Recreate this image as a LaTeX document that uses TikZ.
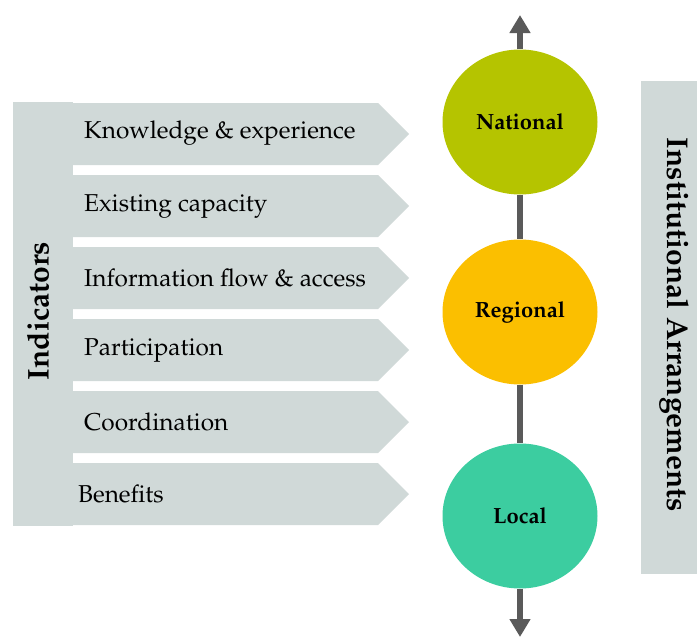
\documentclass[tikz,border=0pt]{standalone}
\usepackage[T1]{fontenc}
\usepackage{mathpazo}
\usepackage{tikz}
\usetikzlibrary{
arrows.meta,%
shapes.geometric,%
positioning
}
\definecolor{panelgray}{RGB}{208,217,216}
\definecolor{natgreen}{RGB}{181,196,0}
\definecolor{regamber}{RGB}{251,191,0}
\definecolor{loccol}{RGB}{60,205,160}
\definecolor{axisgray}{RGB}{90,90,90}
\tikzset{
    panel/.style={fill=panelgray, draw=none},
    itemtext/.style={anchor=west, inner sep=0pt, font=\fontsize{24.4}{29}\selectfont},
    sidetext/.style={inner sep=0pt, font=\bfseries\fontsize{30}{36}\selectfont},
    level/.style={ellipse, inner sep=0pt, minimum width=155pt, minimum height=145pt, font=\bfseries\fontsize{22}{26}\selectfont},
    axisline/.style={draw=axisgray, line width=6pt},
    axistip/.style={-{Triangle[width=20pt, length=18pt]}}
}

\begin{document}
\begin{tikzpicture}[x=1pt, y=-1pt]
            \useasboundingbox (0,0) rectangle (697,637);
            % left panel with the indicator arrows
            \fill[panel] (13,102) rectangle (73,526);
            \foreach \i in {0,...,5} {
                \fill[panel] (73,103+72*\i) -- (378,103+72*\i) -- (409,134+72*\i)
                    -- (378,165+72*\i) -- (73,165+72*\i) -- cycle;
            }
            \node[sidetext, rotate=90] (ind) at (38,311) {Indicators};
            \node[itemtext] (t1) at (84,133) {Knowledge \& experience};
            \node[itemtext] (t2) at (84,206) {Existing capacity};
            \node[itemtext] (t3) at (84,278) {Information flow \& access};
            \node[itemtext] (t4) at (84,350) {Participation};
            \node[itemtext] (t5) at (84,422) {Coordination};
            \node[itemtext] (t6) at (78,494) {Benefits};
            % levels
            \coordinate (top) at (520,15);
            \coordinate (bot) at (520,637);
            \node[level, fill=natgreen] (nat) at (520,122) {National};
            \node[level, fill=regamber] (reg) at (520,312) {Regional};
            \node[level, fill=loccol] (loc) at (520,516) {Local};
            \draw[axisline, axistip] (nat) -- (top);
            \draw[axisline] (nat) -- (reg);
            \draw[axisline] (reg) -- (loc);
            \draw[axisline, axistip] (loc) -- (bot);
            % right panel
            \fill[panel] (641,81) rectangle (697,574);
            \node[sidetext, rotate=-90] (inst) at (674,325) {Institutional Arrangements};
        \end{tikzpicture}
\end{document}
